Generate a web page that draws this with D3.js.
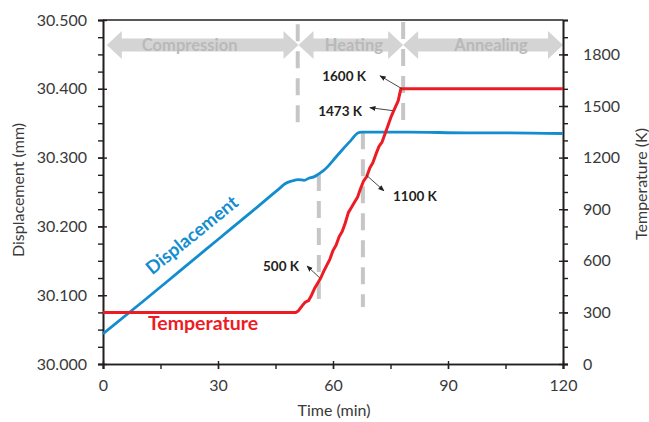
<!DOCTYPE html>
<html>
<head>
<meta charset="utf-8">
<script src="https://cdn.jsdelivr.net/npm/d3@7"></script>
<style>
  html, body { margin: 0; padding: 0; background: #fff; }
  svg { display: block; font-family: Lato, "Open Sans", sans-serif; }
</style>
</head>
<body>
<svg id="chart" width="649" height="422"></svg>
<script>
// ---------- data ----------
const dispTime = [0, 10, 20, 30, 40, 46, 47.5, 49.3, 51, 52.5, 53.7, 55, 56.2, 57.5, 58.8, 60.5, 62.2, 64.5, 66.6, 67.4, 80, 95, 105, 120];
const dispValue = [30.044, 30.089, 30.135, 30.181, 30.227, 30.255, 30.262, 30.266, 30.268, 30.267, 30.270, 30.272, 30.276, 30.281, 30.288, 30.299, 30.310, 30.324, 30.336, 30.337, 30.337, 30.336, 30.336, 30.335];

const tempTime = [0, 50.3, 51.0, 52.0, 52.8, 53.6, 54.4, 55.2, 56.0, 56.8, 57.6, 58.4, 59.2, 60.0, 60.8, 61.6, 62.4, 63.2, 64.0, 64.8, 65.6, 66.4, 67.2, 68.0, 68.8, 69.6, 70.4, 71.2, 72.0, 72.8, 73.6, 74.4, 75.2, 76.0, 77.0, 77.7, 120];
const tempValue = [300, 300, 310, 340, 360, 368, 400, 440, 470, 500, 540, 575, 610, 660, 690, 740, 770, 820, 880, 910, 940, 970, 1020, 1065, 1090, 1140, 1170, 1220, 1265, 1290, 1340, 1390, 1440, 1480, 1530, 1600, 1600];

const phaseNames = ["Compression", "Heating", "Annealing"];
const phaseStart = [1.0, 51.0, 78.3];
const phaseEnd = [51.0, 78.3, 120];

const guideTime = [50.8, 78.3, 56.3, 67.8];
const guideTop = [30.494, 30.497, 30.276, 30.337];
const guideBottom = [30.3474, 30.3517, 30.083, 30.083];

const annoLabels = ["500 K", "1100 K", "1473 K", "1600 K"];
const annoTime = [56.6, 68.6, 75.6, 78.0];
const annoTemp = [500, 1100, 1473, 1600];

const xTicks = [0, 30, 60, 90, 120];
const yLeftTicks = [30.0, 30.1, 30.2, 30.3, 30.4, 30.5];
const yRightTicks = [0, 300, 600, 900, 1200, 1500, 1800];

// ---------- layout ----------
const L = 103, R = 563, T = 20, B = 364;
const blue = "#138dcf", red = "#ed1c24", axisCol = "#231f20", textCol = "#3a3a3a";

const svg = d3.select("#chart");
const x = d3.scaleLinear().domain([0, 120]).range([L, R]);
const yL = d3.scaleLinear().domain([30.0, 30.5]).range([B, T]);
const yR = d3.scaleLinear().domain([0, 2000]).range([B, T]);

// ---------- phase arrows ----------
const cy = 45, hh = 14, sh = 6.5, hl = 15;
const arrows = svg.append("g");
phaseNames.forEach((name, i) => {
  const xs = x(phaseStart[i]), xe = x(phaseEnd[i]);
  const pts = [[xs, cy], [xs + hl, cy - hh], [xs + hl, cy - sh], [xe - hl, cy - sh], [xe - hl, cy - hh], [xe, cy],
               [xe - hl, cy + hh], [xe - hl, cy + sh], [xs + hl, cy + sh], [xs + hl, cy + hh]];
  arrows.append("path").attr("d", d3.line()(pts) + "Z").attr("fill", "#d4d4d4");
  const off = [-13, 3, 8][i];
  arrows.append("text").attr("x", (xs + xe) / 2 + off).attr("y", cy + 5.5)
    .attr("text-anchor", "middle").attr("font-size", 16.5).attr("font-weight", "bold")
    .attr("fill", "#b9b9b9").text(name);
});

// ---------- dashed guides ----------
guideTime.forEach((t, i) => {
  svg.append("line").attr("x1", x(t)).attr("x2", x(t))
    .attr("y1", yL(guideTop[i])).attr("y2", yL(guideBottom[i]))
    .attr("stroke", "#c6c6c6").attr("stroke-width", 4).attr("stroke-dasharray", "17,10");
});

// ---------- axes ----------
function styleAxis(g) {
  g.selectAll(".domain").attr("stroke", axisCol).attr("stroke-width", 1.6);
  g.selectAll(".tick line").attr("stroke", axisCol).attr("stroke-width", 1.4);
  g.selectAll(".tick text").attr("fill", textCol).attr("font-size", 16).attr("font-family", "Lato, sans-serif");
}
// minor ticks
svg.append("g").attr("transform", `translate(${L},0)`)
  .call(d3.axisLeft(yL).tickValues(d3.range(0, 21).map(i => 30 + i * 0.025)).tickSize(5).tickFormat(""))
  .call(styleAxis);
svg.append("g").attr("transform", `translate(${R},0)`)
  .call(d3.axisRight(yR).tickValues(d3.range(0, 21).map(i => i * 100)).tickSize(5).tickFormat(""))
  .call(styleAxis);
svg.append("g").attr("transform", `translate(0,${B})`)
  .call(d3.axisBottom(x).tickValues(d3.range(0, 9).map(i => i * 15)).tickSize(5).tickFormat(""))
  .call(styleAxis);
// major ticks
const gL = svg.append("g").attr("transform", `translate(${L},0)`)
  .call(d3.axisLeft(yL).tickValues(yLeftTicks).tickFormat(d3.format(".3f")).tickSize(5).tickPadding(11))
  .call(styleAxis);
gL.selectAll(".tick line").attr("x2", -5).attr("x1", 4);
const gR = svg.append("g").attr("transform", `translate(${R},0)`)
  .call(d3.axisRight(yR).tickValues(yRightTicks).tickFormat(d3.format("d")).tickSize(5).tickPadding(15))
  .call(styleAxis);
gR.selectAll(".tick line").attr("x1", -4);
const gB = svg.append("g").attr("transform", `translate(0,${B})`)
  .call(d3.axisBottom(x).tickValues(xTicks).tickFormat(d3.format("d")).tickSize(5).tickPadding(11))
  .call(styleAxis);
gB.selectAll(".tick line").attr("y1", -3);
// top border
svg.append("line").attr("x1", L).attr("x2", R).attr("y1", T).attr("y2", T)
  .attr("stroke", axisCol).attr("stroke-width", 1.6);

// ---------- axis titles ----------
svg.append("text").attr("transform", `translate(24,${(T + B) / 2 - 2}) rotate(-90)`)
  .attr("text-anchor", "middle").attr("font-size", 16).attr("fill", textCol).text("Displacement (mm)");
svg.append("text").attr("transform", `translate(647,${(T + B) / 2 - 8}) rotate(-90)`)
  .attr("text-anchor", "middle").attr("font-size", 16).attr("fill", textCol).text("Temperature (K)");
svg.append("text").attr("x", (L + R) / 2 + 1).attr("y", 416)
  .attr("text-anchor", "middle").attr("font-size", 16).attr("fill", textCol).text("Time (min)");

// ---------- series ----------
const dispData = dispTime.map((t, i) => [t, dispValue[i]]);
const tempData = tempTime.map((t, i) => [t, tempValue[i]]);
svg.append("path").datum(dispData)
  .attr("d", d3.line().x(d => x(d[0])).y(d => yL(d[1])).curve(d3.curveMonotoneX))
  .attr("fill", "none").attr("stroke", blue).attr("stroke-width", 2.8);
svg.append("path").datum(tempData)
  .attr("d", d3.line().x(d => x(d[0])).y(d => yR(d[1])).curve(d3.curveLinear))
  .attr("fill", "none").attr("stroke", red).attr("stroke-width", 3).attr("stroke-linejoin", "round");

// ---------- series labels ----------
svg.append("text").attr("transform", "translate(196,240) rotate(-39)")
  .attr("text-anchor", "middle").attr("font-size", 18.5).attr("font-weight", "bold")
  .attr("fill", blue).text("Displacement");
svg.append("text").attr("x", 203).attr("y", 330)
  .attr("text-anchor", "middle").attr("font-size", 19.5).attr("font-weight", "bold")
  .attr("fill", red).text("Temperature");

// ---------- annotations ----------
const defs = svg.append("defs");
defs.append("marker").attr("id", "ah").attr("viewBox", "0 0 10 10").attr("refX", 9).attr("refY", 5)
  .attr("markerWidth", 7).attr("markerHeight", 7).attr("orient", "auto")
  .append("path").attr("d", "M0,1 L10,5 L0,9 Z").attr("fill", "#222");
const headOff = [[-13, -12], [18, 16], [-23, -3], [-22, -13]];
const textPos = [[299, 271, "end"], [393, 201, "start"], [362, 116, "end"], [366, 81, "end"]];
annoLabels.forEach((lab, i) => {
  const px = x(annoTime[i]), py = yR(annoTemp[i]);
  svg.append("line").attr("x1", px).attr("y1", py)
    .attr("x2", px + headOff[i][0]).attr("y2", py + headOff[i][1])
    .attr("stroke", "#333").attr("stroke-width", 0.9).attr("marker-end", "url(#ah)");
  svg.append("text").attr("x", textPos[i][0]).attr("y", textPos[i][1])
    .attr("text-anchor", textPos[i][2]).attr("font-size", 13.5).attr("font-weight", "bold")
    .attr("fill", "#231f20").text(lab);
});
</script>
</body>
</html>
